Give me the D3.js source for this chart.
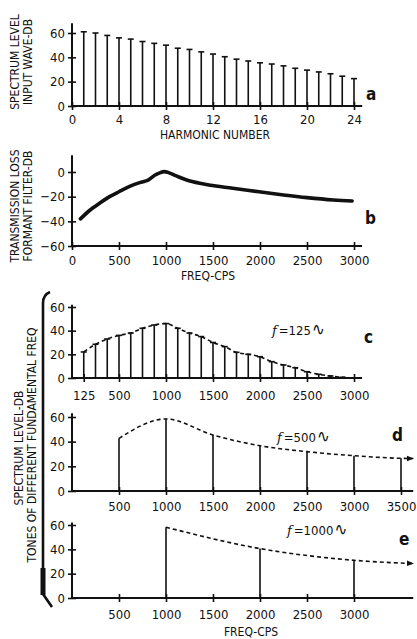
<!DOCTYPE html>
<html>
<head>
<meta charset="utf-8">
<script src="https://cdn.jsdelivr.net/npm/d3@7"></script>
<style>
  body { margin: 0; background: #fff; }
  svg { display: block; }
</style>
</head>
<body>
<script>
// ---- a: spectrum of the input wave, one line per harmonic ----
const harmonicNumbers = [1, 2, 3, 4, 5, 6, 7, 8, 9, 10, 11, 12, 13, 14, 15, 16, 17, 18, 19, 20, 21, 22, 23, 24];
const inputWaveDb = [61, 60, 58, 56, 55, 53, 51.5, 50, 47.5, 46.5, 44.5, 42.7, 40.5, 38.5, 37, 35.5, 34.5, 33, 31, 29.5, 28, 26.5, 24.5, 22.5];
const harmonicTicks = [0, 4, 8, 12, 16, 20, 24];
const levelTicks = [0, 20, 40, 60];

// ---- b: transmission loss of the formant filter ----
const formantFreq = [90, 190, 300, 400, 500, 620, 720, 810, 880, 940, 980, 1020, 1110, 1220, 1360, 1470, 1710, 1990, 2250, 2500, 2780, 2980];
const formantDb = [-38, -31, -25, -20, -16, -11.5, -8.6, -6.5, -2.6, -0.5, 0.3, -0.3, -3.2, -6.5, -9.2, -10.8, -13.2, -16, -18.6, -20.8, -22.7, -23.5];
const lossTicks = [-60, -40, -20, 0];
const freqTicks = [0, 500, 1000, 1500, 2000, 2500, 3000];

// ---- c: output spectrum, fundamental 125 cps ----
const toneCFreq = [125, 250, 375, 500, 625, 750, 875, 1000, 1125, 1250, 1375, 1500, 1625, 1750, 1875, 2000, 2125, 2250, 2375, 2500, 2625, 2750, 2875];
const toneCDb = [22, 28.5, 33, 36, 38, 42, 44.8, 46, 42, 38, 35, 30, 26.5, 21.7, 20, 18, 13.8, 11, 8.7, 5.3, 3.1, 1.7, 0.6];
const toneCEnd = [2950, 0];
const toneCTicks = [125, 500, 1000, 1500, 2000, 2500, 3000];

// ---- d: output spectrum, fundamental 500 cps ----
const toneDFreq = [500, 1000, 1500, 2000, 2500, 3000, 3500];
const toneDDb = [42.7, 58.4, 45.4, 36.7, 31.9, 28.6, 26.5];
const toneDEnd = [3630, 26.3];
const toneDTicks = [500, 1000, 1500, 2000, 2500, 3000, 3500];

// ---- e: output spectrum, fundamental 1000 cps ----
const toneEFreq = [1000, 2000, 3000];
const toneEDb = [58.2, 40.6, 31];
const toneEEnd = [3630, 28.3];
const toneETicks = [500, 1000, 1500, 2000, 2500, 3000];

const W = 417, H = 639;
const FONT = "'DejaVu Sans Condensed', 'DejaVu Sans', sans-serif";
const INK = "#111";
const X0 = 72;

const svg = d3.select("body").append("svg").attr("width", W).attr("height", H);

svg.append("defs").append("marker")
  .attr("id", "arrow").attr("viewBox", "0 0 10 10")
  .attr("refX", 9).attr("refY", 5)
  .attr("markerWidth", 7).attr("markerHeight", 7)
  .attr("markerUnits", "userSpaceOnUse")
  .attr("orient", "auto")
  .append("path").attr("d", "M0,1 L10,5 L0,9 Z").attr("fill", INK);

// scales
const xHarm = d3.scaleLinear([0, 24], [X0, 354]);
const xFreq = d3.scaleLinear([0, 3000], [X0, 354]);
const yA = d3.scaleLinear([0, 60], [106, 33]);
const yB = d3.scaleLinear([-60, 0], [246, 172]);
const yC = d3.scaleLinear([0, 60], [378, 307]);
const yD = d3.scaleLinear([0, 60], [491, 417]);
const yE = d3.scaleLinear([0, 60], [598, 525]);

function styleText(sel, size) {
  sel.attr("font-family", FONT).attr("font-size", size).attr("fill", INK);
}

function leftAxis(y, ticks, topValue, gap) {
  const g = svg.append("g").attr("transform", `translate(${X0},0)`);
  g.call(d3.axisLeft(y).tickValues(ticks).tickSize(4).tickSizeOuter(0).tickPadding(gap));
  g.attr("font-family", FONT).attr("font-size", 13);
  g.select(".domain").remove();
  g.selectAll(".tick line").attr("x1", 4).attr("x2", -4).attr("stroke", INK).attr("stroke-width", 1.6);
  g.selectAll(".tick text").attr("fill", INK);
  g.append("line")
    .attr("y1", y(y.domain()[0])).attr("y2", y(topValue))
    .attr("stroke", INK).attr("stroke-width", 2);
  return g;
}

function bottomAxis(x, yPos, ticks, endValue, gap, fmt) {
  const g = svg.append("g").attr("transform", `translate(0,${yPos})`);
  g.call(d3.axisBottom(x).tickValues(ticks).tickSize(4).tickSizeOuter(0).tickPadding(gap).tickFormat(fmt || d3.format("d")));
  g.attr("font-family", FONT).attr("font-size", 13);
  g.select(".domain").remove();
  g.selectAll(".tick line").attr("y1", -4).attr("y2", 4).attr("stroke", INK).attr("stroke-width", 1.6);
  g.selectAll(".tick text").attr("fill", INK);
  g.append("line")
    .attr("x1", x.range()[0]).attr("x2", x(endValue))
    .attr("stroke", INK).attr("stroke-width", 2);
  return g;
}

function stems(x, y, freqs, values, capLeft, capRight) {
  const g = svg.append("g").attr("stroke", INK).attr("stroke-width", 1.6);
  g.selectAll("line.stem").data(freqs).join("line").attr("class", "stem")
    .attr("x1", d => x(d)).attr("x2", d => x(d))
    .attr("y1", y(0)).attr("y2", (d, i) => y(values[i]));
  g.selectAll("line.cap").data(freqs).join("line").attr("class", "cap")
    .attr("x1", d => x(d) - capLeft).attr("x2", d => x(d) + capRight)
    .attr("y1", (d, i) => y(values[i])).attr("y2", (d, i) => y(values[i]));
  return g;
}

function envelope(x, y, freqs, values, end, arrow) {
  const pts = freqs.map((f, i) => [f, values[i]]).concat([end]);
  const line = d3.line().x(d => x(d[0])).y(d => y(d[1])).curve(d3.curveMonotoneX);
  const p = svg.append("path").attr("d", line(pts))
    .attr("fill", "none").attr("stroke", INK).attr("stroke-width", 1.6)
    .attr("stroke-dasharray", "4,3");
  if (arrow) p.attr("marker-end", "url(#arrow)");
}

function verticalLabel(x, yCenter, text, size) {
  svg.append("text")
    .attr("transform", `translate(${x},${yCenter}) rotate(-90)`)
    .attr("text-anchor", "middle").attr("dominant-baseline", "middle")
    .call(styleText, size).text(text);
}

function panelLetter(x, y, letter) {
  svg.append("text").attr("x", x).attr("y", y)
    .call(styleText, 17).attr("font-weight", "bold").text(letter);
}

function toneLabel(x, y, fund) {
  const t = svg.append("text").attr("x", x).attr("y", y).call(styleText, 13);
  t.append("tspan").attr("font-style", "italic").attr("font-family", "'DejaVu Serif', serif").text("f");
  t.append("tspan").attr("dx", 2).text("=" + fund);
  t.append("tspan").attr("font-size", 17).attr("dx", 1).text("\u223F");
}

// ---------- panel a ----------
stems(xHarm, yA, harmonicNumbers, inputWaveDb, 3, 3);
leftAxis(yA, levelTicks, 68, 3);
bottomAxis(xHarm, yA(0), harmonicTicks, 24.7, 5);
svg.append("text").attr("x", 215).attr("y", 139).attr("text-anchor", "middle")
  .call(styleText, 12).text("HARMONIC NUMBER");
verticalLabel(15, 62, "SPECTRUM LEVEL", 12);
verticalLabel(28, 62, "INPUT WAVE-DB", 12);
panelLetter(366, 100, "a");

// ---------- panel b ----------
svg.append("path")
  .attr("d", d3.line().x((d, i) => xFreq(formantFreq[i])).y(d => yB(d)).curve(d3.curveCatmullRom)(formantDb))
  .attr("fill", "none").attr("stroke", INK).attr("stroke-width", 3.6).attr("stroke-linecap", "round");
leftAxis(yB, lossTicks, 13.5, 3);
bottomAxis(xFreq, yB(-60), freqTicks, 3085, 6);
svg.append("text").attr("x", 208).attr("y", 280).attr("text-anchor", "middle")
  .call(styleText, 12).text("FREQ-CPS");
verticalLabel(15, 206, "TRANSMISSION LOSS", 12);
verticalLabel(28, 206, "FORMANT FILTER-DB", 12);
panelLetter(365, 224, "b");

// ---------- panel c ----------
stems(xFreq, yC, toneCFreq, toneCDb, 3, 3);
envelope(xFreq, yC, toneCFreq, toneCDb, toneCEnd, false);
leftAxis(yC, levelTicks, 62, 3);
bottomAxis(xFreq, yC(0), toneCTicks, 3085, 9);
toneLabel(272, 335, 125);
panelLetter(364, 343, "c");

// ---------- panel d ----------
stems(xFreq, yD, toneDFreq, toneDDb, 0, 0);
envelope(xFreq, yD, toneDFreq, toneDDb, toneDEnd, true);
leftAxis(yD, levelTicks, 63, 3);
bottomAxis(xFreq, yD(0), toneDTicks, 3630, 7);
toneLabel(277, 442, 500);
panelLetter(392, 441, "d");

// ---------- panel e ----------
stems(xFreq, yE, toneEFreq, toneEDb, 0, 0);
envelope(xFreq, yE, toneEFreq, toneEDb, toneEEnd, true);
leftAxis(yE, levelTicks, 62, 3);
bottomAxis(xFreq, yE(0), toneETicks, 3630, 8);
svg.append("text").attr("x", 251).attr("y", 636).attr("text-anchor", "middle")
  .call(styleText, 12).text("FREQ-CPS");
toneLabel(287, 535, 1000);
panelLetter(399, 545, "e");

// shared y label and bracket for c, d, e
verticalLabel(19, 448, "SPECTRUM LEVEL-DB", 12);
verticalLabel(32, 445, "TONES OF DIFFERENT FUNDAMENTAL FREQ", 12);
svg.append("path").attr("d", "M50,292 Q43,295 43,303 L43,594 L52,607")
  .attr("fill", "none").attr("stroke", INK).attr("stroke-width", 2.6);
svg.append("line").attr("x1", 43).attr("x2", 43).attr("y1", 568).attr("y2", 595)
  .attr("stroke", INK).attr("stroke-width", 5);
</script>
</body>
</html>
